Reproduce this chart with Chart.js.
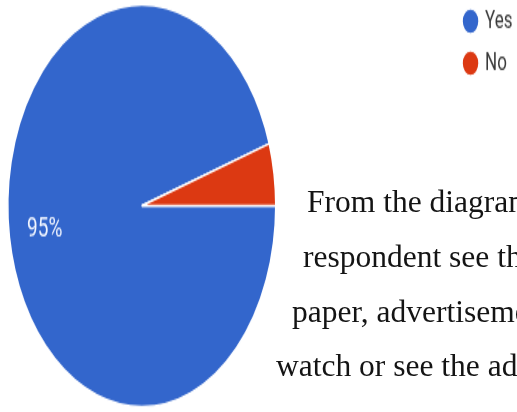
<!DOCTYPE html>
<html>
<head>
<meta charset="utf-8">
<script src="https://cdn.jsdelivr.net/npm/chart.js@4/dist/chart.umd.min.js"></script>
<style>
  html, body { margin: 0; padding: 0; background: #ffffff; width: 517px; height: 412px; overflow: hidden; }
  #wrap { position: absolute; left: -170px; top: -8px; width: 700px; height: 285px; transform: scaleY(1.5); transform-origin: 0 0; }
  .doc { position: absolute; white-space: nowrap; font-family: "Liberation Serif", "Times New Roman", serif; font-size: 31.5px; line-height: 31.5px; color: #141414; }
</style>
</head>
<body>
<div id="wrap"><canvas id="c" width="700" height="285"></canvas></div>
<div class="doc" style="left:307px; top:185.5px;">From the diagram</div>
<div class="doc" style="left:303px; top:240.5px;">respondent see the</div>
<div class="doc" style="left:292px; top:295.5px;">paper, advertisement</div>
<div class="doc" style="left:276px; top:349.5px;">watch or see the ad</div>
<script>
const categories = ["Yes", "No"];
const values = [95, 5];
const colors = ["#3366CC", "#DC3912"];

const sliceLabels = {
  id: 'sliceLabels',
  afterDatasetsDraw(chart) {
    const ctx = chart.ctx;
    const meta = chart.getDatasetMeta(0);
    const total = values.reduce((a, b) => a + b, 0);
    meta.data.forEach((arc, i) => {
      const pct = values[i] / total * 100;
      if (pct < 10) return;
      const p = arc.getProps(['x', 'y', 'startAngle', 'endAngle', 'outerRadius'], true);
      const mid = (p.startAngle + p.endAngle) / 2;
      const r = p.outerRadius * 0.733;
      ctx.save();
      ctx.fillStyle = '#f2f6ff';
      ctx.font = '19px Roboto, Arial, sans-serif';
      ctx.textAlign = 'center';
      ctx.textBaseline = 'middle';
      ctx.fillText(Math.round(pct) + '%', p.x + Math.cos(mid) * r, p.y + Math.sin(mid) * r);
      ctx.restore();
    });
  }
};

new Chart(document.getElementById('c'), {
  type: 'pie',
  data: {
    labels: categories,
    datasets: [{
      data: values,
      backgroundColor: colors,
      borderColor: '#ffffff',
      borderWidth: 1.5,
      radius: 134
    }]
  },
  options: {
    responsive: false,
    animation: false,
    devicePixelRatio: 1,
    rotation: 90,
    events: [],
    layout: { padding: { left: 0, top: 0, bottom: 0, right: 7.5 } },
    plugins: {
      tooltip: { enabled: false },
      legend: {
        display: true,
        position: 'right',
        align: 'start',
        labels: {
          usePointStyle: true,
          pointStyle: 'circle',
          boxWidth: 12,
          boxHeight: 12,
          padding: 11,
          color: '#3a3a3a',
          font: { family: 'Roboto, Arial, sans-serif', size: 17 }
        }
      }
    }
  },
  plugins: [sliceLabels]
});
</script>
</body>
</html>
